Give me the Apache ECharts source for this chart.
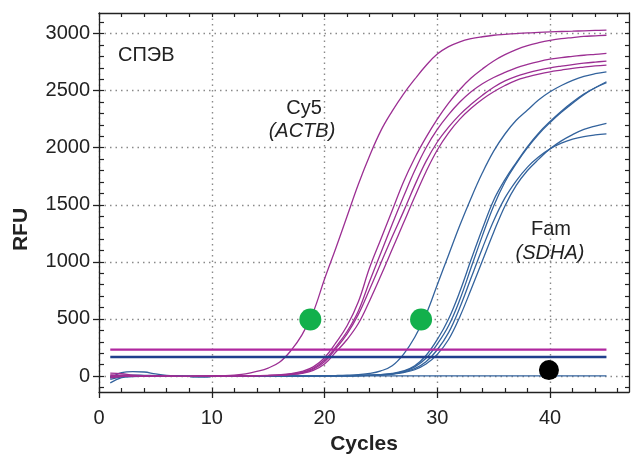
<!DOCTYPE html>
<html>
<head>
<meta charset="utf-8">
<script src="https://cdn.jsdelivr.net/npm/echarts@6/dist/echarts.min.js"></script>
<style>
html, body { margin: 0; padding: 0; background: #fff; }
#chart { width: 631px; height: 454px; }
</style>
</head>
<body>
<div id="chart"></div>
<script>
// cycle numbers (x)
const cycles = [1,2,3,4,5,6,7,8,9,10,11,12,13,14,15,16,17,18,19,20,21,22,23,24,25,26,27,28,29,30,31,32,33,34,35,36,37,38,39,40,41,42,43,44,45];

// Cy5 (ACTB) curves, RFU
const cy5A = [25,20,8,2,0,-2,-3,-3,-2,0, 3,8,18,40,70,120,220,360,560,850, 1120,1400,1680,1930,2150,2320,2470,2600,2720,2820, 2885,2928,2955,2972,2985,2993,3000,3006,3010,3014, 3018,3021,3024,3027,3030];
const cy5B = [-15,-5,0,0,0,-2,-3,-3,-2,0, 0,1,2,3,5,10,20,40,80,160, 290,440,650,950,1200,1450,1700,1910,2090,2250, 2390,2510,2610,2690,2760,2815,2860,2895,2920,2940, 2955,2965,2975,2980,2985];
const cy5C = [5,3,0,0,0,-2,-3,-3,-2,0, 0,1,2,3,5,8,16,32,68,140, 255,390,570,830,1080,1330,1570,1800,2000,2160, 2290,2400,2490,2560,2615,2660,2700,2730,2755,2775, 2790,2800,2810,2818,2826];
const cy5D = [-8,-2,0,0,0,-2,-3,-3,-2,0, 0,1,2,3,4,7,14,28,60,125, 240,370,540,760,990,1220,1440,1670,1880,2050, 2180,2290,2380,2460,2530,2585,2625,2655,2680,2700, 2715,2728,2740,2750,2759];
const cy5E = [10,6,2,0,0,-2,-3,-3,-2,0, 0,1,2,3,4,6,12,24,50,105, 210,320,460,660,880,1110,1340,1570,1790,1980, 2130,2250,2345,2425,2490,2545,2590,2620,2645,2665, 2680,2695,2706,2716,2724];

// Fam (SDHA) curves, RFU
const famF = [-60,-15,-5,-2,0,0,-2,-4,-5,-4, -3,-2,-1,0,0,0,1,1,2,2, 4,7,12,22,45,90,190,340,540,800, 1060,1320,1560,1780,1970,2120,2240,2330,2420,2490, 2545,2590,2625,2648,2665];
const famG1 = [-20,30,38,35,18,5,0,-3,-5,-4, -3,-2,-1,0,0,0,0,1,1,1, 1,2,4,7,12,22,45,90,180,320, 500,740,1020,1290,1540,1720,1870,2010,2130,2230, 2320,2400,2470,2525,2569];
const famG2 = [-10,5,8,6,3,0,-2,-4,-5,-4, -3,-2,-1,0,0,0,0,0,1,1, 1,2,3,5,9,17,40,80,155,280, 440,670,950,1230,1490,1700,1860,2000,2120,2220, 2310,2390,2465,2525,2578];
const famH = [-5,0,2,1,0,-2,-3,-4,-5,-4, -3,-2,-1,0,0,0,0,0,1,1, 1,2,3,5,9,16,30,55,105,190, 320,520,760,1010,1260,1490,1670,1800,1900,1990, 2060,2115,2160,2190,2214];
const famI = [-12,-3,0,1,0,-2,-3,-4,-5,-4, -3,-2,-1,0,0,0,0,1,1,2, 2,3,5,8,12,18,35,65,125,230, 380,600,860,1120,1360,1560,1710,1830,1920,1990, 2040,2075,2098,2112,2121];
const famNeg = [-30,-8,0,2,1,0,-2,-3,-4,-4, -3,-2,-1,0,0,1,1,1,1,1, 1,1,1,1,1,2,2,2,2,2, 2,2,2,2,2,2,2,2,2,2, 2,2,2,2,2];

// threshold levels
const thrCy5 = 231;
const thrFam = 166;
const thrFrom = 1;
const thrTo = 45;

// markers [cycle, RFU]
const greenDots = [[18.74, 495], [28.56, 495]];
const blackDots = [[39.9, 52]];

// axis ticks / labels
const xLabels = [0, 10, 20, 30, 40];
const xMinor = [0,2,4,6,8,10,12,14,16,18,20,22,24,26,28,30,32,34,36,38,40,42,44,46];
const yLabels = [0, 500, 1000, 1500, 2000, 2500, 3000];
const yMinor = [-100,0,100,200,300,400,500,600,700,800,900,1000,1100,1200,1300,1400,1500,1600,1700,1800,1900,2000,2100,2200,2300,2400,2500,2600,2700,2800,2900,3000,3100];

const pairs = (vals) => cycles.map((c, i) => [c, vals[i]]);

const magenta = '#9c2f93';
const blue = '#33639d';

function curve(vals, color) {
  return {
    type: 'line',
    data: pairs(vals),
    showSymbol: false,
    smooth: 0.4,
    lineStyle: { color: color, width: 1.3 },
    silent: true,
  };
}

const chart = echarts.init(document.getElementById('chart'));

const textFont = 'Liberation Sans, Arial, sans-serif';
const gridDots = { color: '#8a8a8a', width: 1.4, type: [1.5, 4] };
const plain = (v) => String(v);

const option = {
  animation: false,
  grid: { left: 99, right: 2, top: 13, bottom: 62, containLabel: false, outerBoundsMode: 'none' },
  textStyle: { fontFamily: textFont },
  xAxis: [
    {
      type: 'value', position: 'bottom', min: 0, max: 47,
      axisLine: { onZero: false, lineStyle: { color: '#222', width: 1.3 } },
      axisTick: { customValues: xLabels, length: 6, lineStyle: { color: '#222', width: 1.3 } },
      axisLabel: { customValues: xLabels, formatter: plain, color: '#222', fontSize: 20, margin: 16 },
      splitLine: { show: true, lineStyle: gridDots },
      name: 'Cycles', nameLocation: 'middle', nameGap: 42,
      nameTextStyle: { fontSize: 21, fontWeight: 'bold', color: '#222' },
    },
    {
      type: 'value', position: 'bottom', min: 0, max: 47,
      axisLine: { show: false, onZero: false },
      axisTick: { inside: true, customValues: xMinor, length: 4, lineStyle: { color: '#222', width: 1.2 } },
      axisLabel: { show: false },
      splitLine: { show: false },
    },
    {
      type: 'value', position: 'top', min: 0, max: 47,
      axisLine: { onZero: false, lineStyle: { color: '#222', width: 1.3 } },
      axisTick: { inside: true, customValues: xMinor, length: 4, lineStyle: { color: '#222', width: 1.2 } },
      axisLabel: { show: false },
      splitLine: { show: false },
    },
  ],
  yAxis: [
    {
      type: 'value', position: 'left', min: -140, max: 3180,
      axisLine: { show: true, onZero: false, lineStyle: { color: '#222', width: 1.3 } },
      axisTick: { show: true, customValues: yLabels, length: 6, lineStyle: { color: '#222', width: 1.3 } },
      axisLabel: { customValues: yLabels, formatter: plain, color: '#222', fontSize: 20, margin: 9 },
      splitLine: { show: true, lineStyle: gridDots },
      name: 'RFU', nameLocation: 'middle', nameGap: 67, nameRotate: 90,
      nameTextStyle: { fontSize: 21, fontWeight: 'bold', color: '#222', padding: [0, 54, 0, 0] },
    },
    {
      type: 'value', position: 'left', min: -140, max: 3180,
      axisLine: { show: false, onZero: false },
      axisTick: { show: true, inside: true, customValues: yMinor, length: 5, lineStyle: { color: '#222', width: 1.2 } },
      axisLabel: { show: false },
      splitLine: { show: false },
    },
    {
      type: 'value', position: 'right', min: -140, max: 3180,
      axisLine: { show: true, onZero: false, lineStyle: { color: '#222', width: 1.3 } },
      axisTick: { show: true, inside: true, customValues: yMinor, length: 4, lineStyle: { color: '#222', width: 1.2 } },
      axisLabel: { show: false },
      splitLine: { show: false },
    },
  ],
  graphic: [
    { type: 'text', left: 118, top: 45, style: { text: 'СПЭВ', font: '20px ' + textFont, fill: '#222' } },
    { type: 'text', x: 304, y: 108, style: { text: 'Cy5', font: '20px ' + textFont, fill: '#222', align: 'center', verticalAlign: 'middle' } },
    { type: 'text', x: 302, y: 131, style: { text: '(ACTB)', font: 'italic 20px ' + textFont, fill: '#222', align: 'center', verticalAlign: 'middle' } },
    { type: 'text', x: 551, y: 229, style: { text: 'Fam', font: '20px ' + textFont, fill: '#222', align: 'center', verticalAlign: 'middle' } },
    { type: 'text', x: 550, y: 253, style: { text: '(SDHA)', font: 'italic 20px ' + textFont, fill: '#222', align: 'center', verticalAlign: 'middle' } },
  ],
  series: [
    curve(famNeg, blue),
    curve(famF, blue),
    curve(famG1, blue),
    curve(famG2, blue),
    curve(famH, blue),
    curve(famI, blue),
    curve(cy5A, magenta),
    curve(cy5B, magenta),
    curve(cy5C, magenta),
    curve(cy5D, magenta),
    curve(cy5E, magenta),
    {
      type: 'line', data: [[thrFrom, thrCy5], [thrTo, thrCy5]], showSymbol: false, silent: true,
      lineStyle: { color: '#b0279f', width: 2.4 },
    },
    {
      type: 'line', data: [[thrFrom, thrFam], [thrTo, thrFam]], showSymbol: false, silent: true,
      lineStyle: { color: '#1f3f8c', width: 2.4 },
    },
    {
      type: 'scatter', data: greenDots, symbol: 'circle', symbolSize: 22, silent: true,
      itemStyle: { color: '#12b04c', opacity: 1 }, z: 5,
    },
    {
      type: 'scatter', data: blackDots, symbol: 'circle', symbolSize: 20, silent: true,
      itemStyle: { color: '#000', opacity: 1 }, z: 5,
    },
  ],
};
chart.setOption(option);
</script>
</body>
</html>
